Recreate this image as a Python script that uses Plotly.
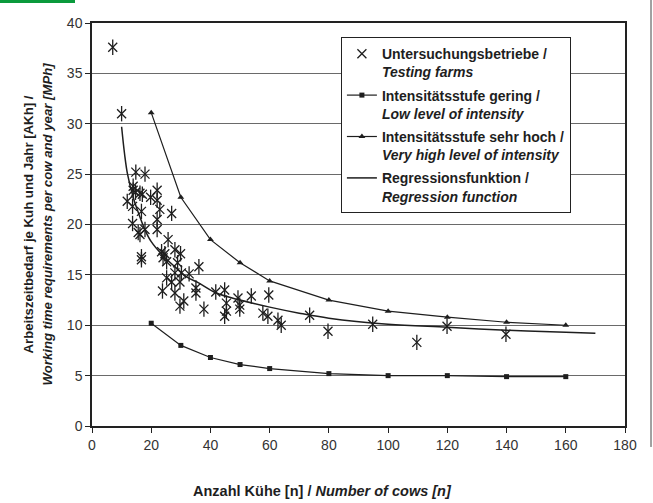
import plotly.graph_objects as go

# Testing farms (Untersuchungsbetriebe)
farm_x = [7.0, 10.0, 14.8, 17.9, 13.9, 13.9, 14.7, 16.2, 17.0, 22.0, 19.8, 22.0, 11.9, 13.7, 22.9, 16.7,
          26.9, 13.7, 22.0, 22.0, 17.9, 16.2, 15.6, 25.7, 16.7, 16.7, 23.5, 24.6, 24.0, 28.0, 29.9, 25.2,
          28.9, 36.1, 28.0, 30.2, 32.8, 25.2, 26.9, 29.7, 23.8, 28.0, 35.1, 35.1, 41.8, 31.0, 29.7, 37.8,
          44.8, 45.4, 45.4, 44.8, 49.3, 49.9, 49.9, 53.8, 59.7, 57.7, 59.4, 62.8, 63.9, 73.5, 79.7,
          94.8, 109.7, 119.9, 139.8]
farm_y = [37.6, 31.0, 25.2, 25.0, 23.8, 23.4, 23.2, 23.1, 23.0, 23.4, 22.7, 22.4, 22.3, 21.8, 21.5, 21.3,
          21.1, 20.1, 20.5, 19.5, 19.5, 19.0, 19.2, 18.5, 16.8, 16.5, 17.3, 17.1, 16.7, 17.5, 17.1, 16.3,
          16.2, 15.8, 15.2, 15.2, 15.1, 14.7, 14.3, 14.3, 13.4, 13.2, 13.7, 13.2, 13.3, 12.4, 11.9, 11.6,
          13.5, 12.2, 11.4, 10.9, 12.7, 12.0, 11.6, 12.9, 13.0, 11.2, 10.9, 10.5, 10.0, 11.0, 9.4,
          10.1, 8.3, 9.9, 9.1]

# Intensity levels
level_x = [20, 30, 40, 50, 60, 80, 100, 120, 140, 160]
low_y = [10.2, 8.0, 6.8, 6.1, 5.7, 5.2, 5.0, 5.0, 4.9, 4.9]
high_y = [31.1, 22.7, 18.5, 16.2, 14.4, 12.5, 11.4, 10.8, 10.3, 10.0]

# Regression function
reg_x = [10, 11, 12, 14, 16, 18, 20, 24, 28, 32, 36, 42, 50, 60, 70, 80, 100, 120, 140, 160, 170]
reg_y = [29.7, 27.0, 25.0, 22.6, 20.9, 19.4, 18.3, 16.9, 15.8, 14.8, 14.2, 13.2, 12.5, 11.8, 11.2,
         10.7, 10.1, 9.8, 9.5, 9.3, 9.2]

x_ticks = [0, 20, 40, 60, 80, 100, 120, 140, 160, 180]
y_ticks = [0, 5, 10, 15, 20, 25, 30, 35, 40]

FONT = "Liberation Sans, Arial, sans-serif"
INK = "#1e1e1e"

fig = go.Figure()

fig.add_trace(go.Scatter(
    x=farm_x, y=farm_y, mode="markers",
    name="<b>Untersuchungsbetriebe /</b><br><b><i>Testing farms</i></b>",
    legendgroup="a",
    marker=dict(symbol="x-thin-open", size=9, line=dict(color=INK, width=1.3), color=INK),
))
fig.add_trace(go.Scatter(
    x=farm_x, y=farm_y, mode="markers", showlegend=False, legendgroup="a", hoverinfo="skip",
    marker=dict(symbol="line-ns-open", size=11, line=dict(color=INK, width=1.3), color=INK),
))
fig.add_trace(go.Scatter(
    x=level_x, y=low_y, mode="lines+markers",
    name="<b>Intensitätsstufe gering /</b><br><b><i>Low level of intensity</i></b>",
    legendgroup="b",
    line=dict(color=INK, width=1.2),
    marker=dict(symbol="square", size=5, color=INK),
))
fig.add_trace(go.Scatter(
    x=level_x, y=high_y, mode="lines+markers",
    name="<b>Intensitätsstufe sehr hoch /</b><br><b><i>Very high level of intensity</i></b>",
    legendgroup="c",
    line=dict(color=INK, width=1.2),
    marker=dict(symbol="triangle-up", size=6, color=INK),
))
fig.add_trace(go.Scatter(
    x=reg_x, y=reg_y, mode="lines", line_shape="spline",
    name="<b>Regressionsfunktion /</b><br><b><i>Regression function</i></b>",
    legendgroup="d",
    line=dict(color=INK, width=1.5),
))

fig.update_layout(
    width=653, height=503,
    margin=dict(l=92, r=28, t=23, b=77),
    paper_bgcolor="white", plot_bgcolor="white",
    font=dict(family=FONT, size=13, color="#333"),
    showlegend=True,
    legend=dict(
        x=0.467, y=0.965, xanchor="left", yanchor="top",
        bgcolor="white", bordercolor="#222", borderwidth=1,
        font=dict(family=FONT, size=14, color=INK),
        traceorder="grouped", tracegroupgap=2, valign="top",
        itemwidth=30, entrywidth=225, entrywidthmode="pixels",
    ),
    xaxis=dict(
        range=[0, 180], tickvals=x_ticks, ticktext=[str(v) for v in x_ticks],
        showgrid=False, zeroline=False,
        showline=True, linecolor="#222", linewidth=1.5, mirror=True,
        ticks="outside", ticklen=5, tickcolor="#222",
        tickfont=dict(size=14, color="#333"),
    ),
    yaxis=dict(
        range=[0, 40], tickvals=y_ticks, ticktext=[str(v) for v in y_ticks],
        showgrid=True, gridcolor="#6a6a6a", gridwidth=1, zeroline=False,
        showline=True, linecolor="#222", linewidth=1.5, mirror=True,
        ticks="outside", ticklen=5, tickcolor="#222",
        tickfont=dict(size=14, color="#333"),
    ),
    annotations=[
        dict(text="<b>Arbeitszeitbedarf je Kuh und Jahr [AKh] /</b>",
             xref="paper", yref="paper", x=(28 - 92) / 533, y=0.5, xanchor="center", yanchor="middle",
             textangle=-90, showarrow=False, font=dict(family=FONT, size=13.2, color=INK)),
        dict(text="<b><i>Working time requirements per cow and year [MPh]</i></b>",
             xref="paper", yref="paper", x=(47 - 92) / 533, y=0.5, xanchor="center", yanchor="middle",
             textangle=-90, showarrow=False, font=dict(family=FONT, size=13.2, color=INK)),
        dict(text="<b>Anzahl Kühe [n] / </b><b><i>Number of cows [n]</i></b>",
             xref="paper", yref="paper", x=(322 - 92) / 533, y=(426 - 491) / 403,
             xanchor="center", yanchor="middle",
             showarrow=False, font=dict(family=FONT, size=14.5, color=INK)),
    ],
    shapes=[
        dict(type="rect", xref="paper", yref="paper", x0=-0.1726, x1=-0.0319, y0=1.0496, y1=1.06,
             fillcolor="#0a9a3c", line=dict(width=0), layer="above"),
        dict(type="line", xref="paper", yref="paper", x0=1.0488, x1=1.0488, y0=-0.052, y1=1.06,
             line=dict(color="#444", width=1)),
    ],
)

fig.write_html("out.html", config={"displayModeBar": False},
               post_script="document.body.style.margin='0';")
